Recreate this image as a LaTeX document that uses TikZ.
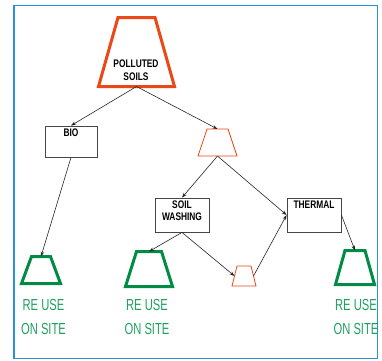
\documentclass[tikz,border=0pt]{standalone}
\usepackage{fontspec}
\setmainfont{Liberation Sans}
\usetikzlibrary{arrows.meta}

\definecolor{soilred}{RGB}{234,72,22}
\definecolor{reusegreen}{RGB}{0,140,68}
\definecolor{reusetext}{RGB}{30,160,95}
\definecolor{framebl}{RGB}{40,145,215}
\definecolor{boxgray}{RGB}{70,70,70}

\newcommand{\narrow}[1]{\scalebox{0.76}[1]{#1}}
\newcommand{\wide}[1]{\scalebox{0.70}[1]{#1}}
% trapezoid: name, centre x, top y, bottom y, half top, half bottom, style
\newcommand{\trapez}[7]{%
  \draw[#7] (#2-#5,#3) -- (#2+#5,#3) -- (#2+#6,#4) -- (#2-#6,#4) -- cycle;
  \coordinate (#1-top) at (#2,#3);
  \coordinate (#1-bot) at (#2,#4);
  \coordinate (#1-left) at ({#2-(#5+#6)/2},{(#3+#4)/2});
  \coordinate (#1-right) at ({#2+(#5+#6)/2},{(#3+#4)/2});}

\begin{document}
\begin{tikzpicture}[x=1pt,y=-1pt,
  soiltrap/.style={draw=soilred,line join=miter},
  reusetrap/.style={draw=reusegreen,line width=3pt,line join=miter},
  procbox/.style={draw=boxgray,line width=0.8pt,minimum width=52pt,minimum height=31pt,inner sep=0pt},
  boxtext/.style={font=\bfseries\fontsize{11}{12}\selectfont,align=center,inner sep=3.5pt},
  reusetext/.style={text=reusetext,font=\fontsize{16}{24}\selectfont,align=center,inner sep=0pt},
  flow/.style={-{Stealth[length=5pt,width=3.5pt]},line width=0.6pt,black!85}]

\useasboundingbox (0,0) rectangle (382,360);
\draw[framebl,line width=1.4pt] (14,5.5) rectangle (377.5,358.5);

% polluted soils
\trapez{pol}{136.5}{17.5}{86.5}{18.5}{38}{soiltrap,line width=3pt}
\node[boxtext,font=\bfseries\fontsize{11}{13}\selectfont] (poltext) at (136,70.5)
  {\narrow{POLLUTED}\\\narrow{SOILS}};

% treatments
\node[procbox] (bio) at (71,141.5) {};
\node[boxtext,anchor=north] (biotext) at (bio.north) {\narrow{BIO}};
\trapez{split}{217.5}{129}{156}{10.5}{19.5}{soiltrap,line width=0.8pt}
\node[procbox,minimum width=54pt,minimum height=34pt] (wash) at (182,215) {};
\node[boxtext,anchor=north] (washtext) at (wash.north) {\narrow{SOIL}\\\narrow{WASHING}};
\node[procbox,minimum width=54pt,minimum height=34pt] (therm) at (314,215) {};
\node[boxtext,anchor=north] (thermtext) at (therm.north) {\narrow{THERMAL}};
\trapez{fines}{244}{266}{286}{7}{12}{soiltrap,line width=0.8pt}

% reuse on site
\trapez{reuseA}{41}{256.5}{283.5}{9.5}{19.5}{reusetrap}
\trapez{reuseB}{149}{251.5}{286.5}{12.5}{23.5}{reusetrap}
\trapez{reuseC}{355}{250.5}{284.5}{10}{19.5}{reusetrap}
\node[reusetext] (reuseAtext) at (43.5,317) {\wide{RE USE}\\\wide{ON SITE}};
\node[reusetext] (reuseBtext) at (147,317) {\wide{RE USE}\\\wide{ON SITE}};
\node[reusetext] (reuseCtext) at (356,317) {\wide{RE USE}\\\wide{ON SITE}};

\draw[flow] (pol-bot) -- (bio.north);
\draw[flow] (pol-bot) -- (split-top);
\draw[flow] (split-bot) -- (wash.north);
\draw[flow] (split-bot) -- (therm.west);
\draw[flow] (bio.south) -- (reuseA-top);
\draw[flow] (wash.south) -- (reuseB-top);
\draw[flow] (wash.south) -- (fines-left);
\draw[flow] (fines-right) -- (therm.west);
\draw[flow] (therm.east) -- (reuseC-top);
\end{tikzpicture}
\end{document}
